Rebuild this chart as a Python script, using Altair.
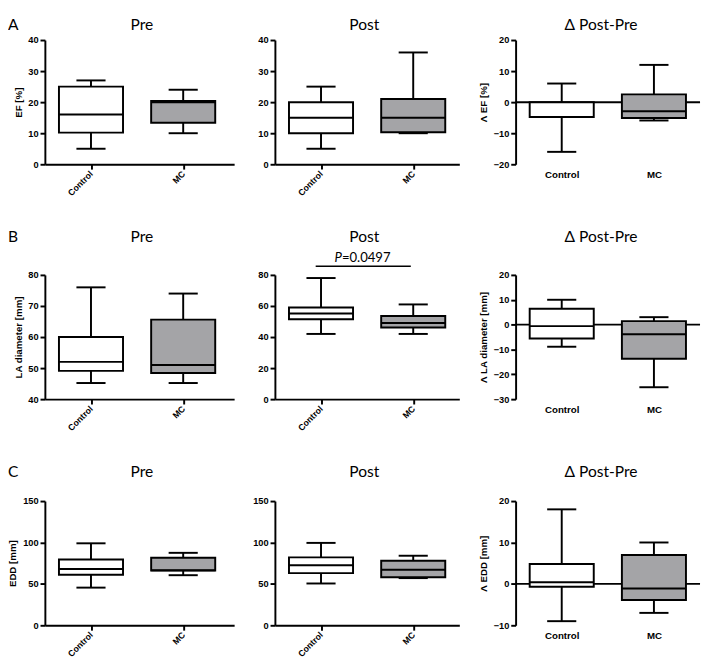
import altair as alt
import pandas as pd

GROUPS = ["Control", "MC"]
FILLS = ["#ffffff", "#a4a4a7"]

# five-number summaries: [min, q1, median, q3, max]
ef_pre_control = [5, 10.2, 16, 25, 27]
ef_pre_mc = [10, 13.4, 20, 20.4, 24]
ef_post_control = [5, 10, 15, 20, 25]
ef_post_mc = [10, 10.3, 15, 21, 36]
ef_delta_control = [-16, -4.8, -4.8, 0, 6]
ef_delta_mc = [-5.9, -5.1, -2.9, 2.5, 12]

la_pre_control = [45.2, 49.1, 52, 60, 76]
la_pre_mc = [45.2, 48.4, 51, 65.6, 74]
la_post_control = [42, 51.5, 55.2, 59, 78]
la_post_mc = [42, 46.2, 49, 53.5, 61]
la_delta_control = [-8.9, -5.6, -0.6, 6.4, 10]
la_delta_mc = [-25.2, -13.7, -3.9, 1.4, 3]

edd_pre_control = [45.5, 61, 68, 79.5, 99]
edd_pre_mc = [60.5, 66, 66.5, 81.5, 87.5]
edd_post_control = [50.5, 63, 72.5, 82, 99.5]
edd_post_mc = [57, 58, 67, 78, 84]
edd_delta_control = [-9, -0.7, 0.4, 4.8, 18]
edd_delta_mc = [-7, -3.9, -1.1, 7, 10]

ZERO = [0]

H = 128
STEP = 95.0
AX_FONT = "Liberation Sans"
TT_FONT = "Lato"


def make_df(ctl, mc):
    return pd.DataFrame({
        "group": GROUPS,
        "lo": [ctl[0], mc[0]],
        "q1": [ctl[1], mc[1]],
        "med": [ctl[2], mc[2]],
        "q3": [ctl[3], mc[3]],
        "hi": [ctl[4], mc[4]],
        "fill": FILLS,
    })


def panel(ctl, mc, domain, ticks, ytitle, title, tx, ty, delta,
          letter=None, lx=0, ptext=False, width=190):
    df = make_df(ctl, mc)
    if delta:
        xaxis = alt.Axis(title=None, domain=False, ticks=False, labelAngle=0,
                         labelPadding=6, labelFont=AX_FONT, labelFontWeight="bold",
                         labelFontSize=10, labelColor="black")
    else:
        xaxis = alt.Axis(title=None, labelAngle=-45, labelAlign="right",
                         labelBaseline="middle", labelPadding=3,
                         labelFont=AX_FONT, labelFontWeight="bold",
                         labelFontSize=9, labelColor="black",
                         domainColor="black", domainWidth=2,
                         tickColor="black", tickWidth=2, tickSize=5)
    pad = (width / STEP - 1) / 2
    aln = (STEP / 2) / (width - STEP)
    x = alt.X("group:N", sort=GROUPS,
              scale=alt.Scale(type="point", padding=pad, align=aln),
              axis=xaxis)
    yscale = alt.Scale(domain=domain, nice=False, zero=False)
    yaxis = alt.Axis(values=ticks, title=ytitle, grid=False,
                     labelFont=AX_FONT, labelFontWeight="bold", labelFontSize=9.5,
                     labelColor="black", labelPadding=2,
                     titleFont=AX_FONT, titleFontWeight="bold", titleFontSize=10,
                     titleColor="black", titlePadding=5,
                     domainColor="black", domainWidth=2,
                     tickColor="black", tickWidth=2, tickSize=5)

    def Y(f):
        return alt.Y(f, scale=yscale, axis=yaxis)

    base = alt.Chart(df)
    layers = []
    if delta:
        layers.append(alt.Chart(pd.DataFrame({"z": ZERO})).mark_rule(
            color="black", strokeWidth=2).encode(y=Y("z:Q")))
    layers.append(base.mark_rule(color="black", strokeWidth=2).encode(
        x=x, y=Y("lo:Q"), y2="hi:Q"))
    layers.append(base.mark_tick(color="black", size=30, thickness=2, opacity=1).encode(
        x=x, y=Y("lo:Q")))
    layers.append(base.mark_tick(color="black", size=30, thickness=2, opacity=1).encode(
        x=x, y=Y("hi:Q")))
    layers.append(base.mark_bar(size=66, stroke="black", strokeWidth=2, opacity=1).encode(
        x=x, y=Y("q1:Q"), y2="q3:Q", fill=alt.Fill("fill:N", scale=None)))
    layers.append(base.mark_tick(color="black", size=66, thickness=2, opacity=1).encode(
        x=x, y=Y("med:Q")))
    layers.append(alt.Chart(pd.DataFrame({"t": [title]})).mark_text(
        font=TT_FONT, fontSize=16, color="black", align="center",
        baseline="top").encode(
        x=alt.value(tx), y=alt.value(ty), text="t:N"))
    if letter:
        layers.append(alt.Chart(pd.DataFrame({"t": [letter]})).mark_text(
            font=TT_FONT, fontSize=16, color="black", align="left",
            baseline="top").encode(
            x=alt.value(lx), y=alt.value(ty), text="t:N"))
    if ptext:
        layers.append(alt.Chart(pd.DataFrame({"t": ["P"]})).mark_text(
            font=TT_FONT, fontSize=13.5, fontStyle="italic", color="black",
            align="right", baseline="alphabetic").encode(
            x=alt.value(69), y=alt.value(-13), text="t:N"))
        layers.append(alt.Chart(pd.DataFrame({"t": ["=0.0497"]})).mark_text(
            font=TT_FONT, fontSize=13.5, color="black",
            align="left", baseline="alphabetic").encode(
            x=alt.value(69), y=alt.value(-13), text="t:N"))
        layers.append(alt.Chart(pd.DataFrame({"t": ["P"]})).mark_rule(
            color="black", strokeWidth=1.5).encode(
            x=alt.value(42), x2=alt.value(140), y=alt.value(-9)))
    return alt.layer(*layers).properties(width=width, height=H)


pA1 = panel(ef_pre_control, ef_pre_mc, [0, 40], [0, 10, 20, 30, 40], "EF [%]",
            "Pre", 100, -23, False, letter="A", lx=-38, width=195)
pA2 = panel(ef_post_control, ef_post_mc, [0, 40], [0, 10, 20, 30, 40], None,
            "Post", 92, -23, False)
pA3 = panel(ef_delta_control, ef_delta_mc, [-20, 20], [-20, -10, 0, 10, 20],
            "Λ EF [%]", "Δ Post-Pre", 88, -23, True)

pB1 = panel(la_pre_control, la_pre_mc, [40, 80], [40, 50, 60, 70, 80],
            "LA diameter [mm]", "Pre", 100, -47, False, letter="B", lx=-38,
            width=195)
pB2 = panel(la_post_control, la_post_mc, [0, 80], [0, 20, 40, 60, 80], None,
            "Post", 92, -47, False, ptext=True)
pB3 = panel(la_delta_control, la_delta_mc, [-30, 20], [-30, -20, -10, 0, 10, 20],
            "Λ LA diameter [mm]", "Δ Post-Pre", 88, -47, True)

pC1 = panel(edd_pre_control, edd_pre_mc, [0, 150], [0, 50, 100, 150], "EDD [mm]",
            "Pre", 100, -38, False, letter="C", lx=-38, width=195)
pC2 = panel(edd_post_control, edd_post_mc, [0, 150], [0, 50, 100, 150], None,
            "Post", 92, -38, False)
pC3 = panel(edd_delta_control, edd_delta_mc, [-10, 20], [-10, 0, 10, 20],
            "Λ EDD [mm]", "Δ Post-Pre", 88, -38, True)

chart = alt.concat(pA1, pA2, pA3, pB1, pB2, pB3, pC1, pC2, pC3,
                   columns=3, align="each",
                   spacing={"row": 32, "column": 19}).properties(
    padding=0,
    background="white",
).configure_view(stroke=None)

chart.save("out.html", embed_options={"renderer": "svg", "actions": False})
